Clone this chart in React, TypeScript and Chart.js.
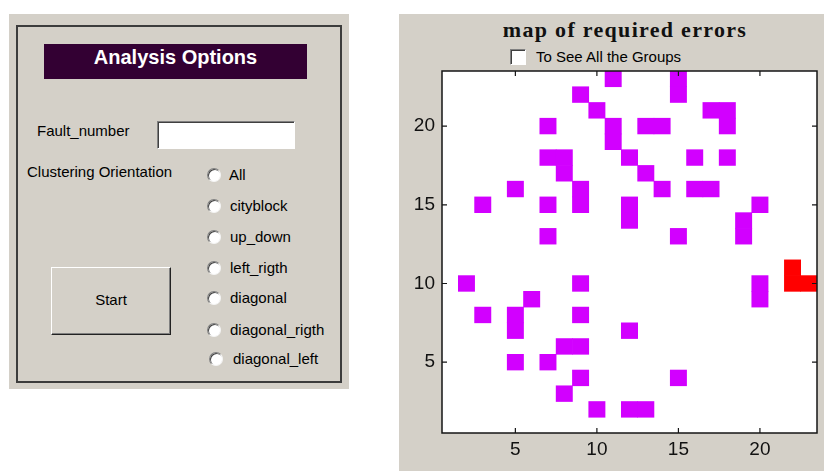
import React, { useEffect, useRef } from "react";
import { Chart, registerables } from "chart.js";

Chart.register(...registerables);

// ---- data ----
const AXIS_MIN = 0.5;
const AXIS_MAX = 23.5;
const TICK_VALUES = [5, 10, 15, 20];

const MAGENTA_X = [11, 15, 15, 9, 10, 17, 18, 18, 7, 11, 11, 13, 14, 7, 8, 8, 12, 16, 18, 13, 5, 9, 9, 14, 16, 17, 3, 7, 12, 12, 20, 19, 19, 7, 15, 2, 9, 20, 20, 6, 3, 5, 5, 9, 12, 8, 9, 5, 7, 9, 15, 8, 10, 12, 13];
const MAGENTA_Y = [23, 23, 22, 22, 21, 21, 21, 20, 20, 20, 19, 20, 20, 18, 18, 17, 18, 18, 18, 17, 16, 16, 15, 16, 16, 16, 15, 15, 15, 14, 15, 14, 13, 13, 13, 10, 10, 10, 9, 9, 8, 8, 7, 8, 7, 6, 6, 5, 5, 4, 4, 3, 2, 2, 2];
const RED_X = [22, 22, 23];
const RED_Y = [11, 10, 10];

const TITLE = "map of required errors";
const CHECKBOX_LABEL = "To See All the Groups";
const PANEL_TITLE = "Analysis Options";
const RADIO_LABELS = ["All", "cityblock", "up_down", "left_rigth", "diagonal", "diagonal_rigth", "diagonal_left"];

// ---- styles ----
const GRAY = "#d4d0c8";
const MAGENTA = "#d200ff";
const RED = "#ff0000";
const UI_FONT = '"Liberation Sans", Arial, sans-serif';

const cells = (xs: number[], ys: number[]) => xs.map((x, i) => ({ x, y: [ys[i] - 0.5, ys[i] + 0.5] }));

const framePlugin = {
  id: "frame",
  beforeDatasetsDraw(chart: any) {
    const { ctx, chartArea: a } = chart;
    ctx.save();
    ctx.fillStyle = "#ffffff";
    ctx.fillRect(a.left, a.top, a.right - a.left, a.bottom - a.top);
    ctx.restore();
  },
  afterDatasetsDraw(chart: any) {
    const { ctx, chartArea: a, scales } = chart;
    ctx.save();
    ctx.strokeStyle = "#151515";
    ctx.lineWidth = 1.5;
    ctx.strokeRect(a.left, a.top, a.right - a.left, a.bottom - a.top);
    ctx.beginPath();
    const L = 5;
    for (const v of TICK_VALUES) {
      const px = scales.x.getPixelForValue(v);
      ctx.moveTo(px, a.bottom);
      ctx.lineTo(px, a.bottom - L);
      ctx.moveTo(px, a.top);
      ctx.lineTo(px, a.top + L);
      const py = scales.y.getPixelForValue(v);
      ctx.moveTo(a.left, py);
      ctx.lineTo(a.left + L, py);
      ctx.moveTo(a.right, py);
      ctx.lineTo(a.right - L, py);
    }
    ctx.lineWidth = 1.2;
    ctx.stroke();
    ctx.restore();
  },
};

function Label({ x, cy, text, size = 15, color = "#000", weight = "normal" }: any) {
  return (
    <div
      style={{
        position: "absolute",
        left: x,
        top: cy - size * 0.6,
        fontFamily: UI_FONT,
        fontSize: size,
        lineHeight: `${size * 1.2}px`,
        color,
        fontWeight: weight,
        whiteSpace: "nowrap",
      }}
    >
      {text}
    </div>
  );
}

const RADIO_Y = [175, 206, 237, 268, 298, 330, 359];
const RADIO_CX = [213.5, 213.5, 213.5, 213.5, 213.5, 213.5, 215.5];
const RADIO_TX = [229, 230, 230, 230, 230, 230, 233];

export default function App() {
  const canvasRef = useRef<HTMLCanvasElement | null>(null);

  useEffect(() => {
    const canvas = canvasRef.current;
    if (!canvas) return;
    const tickFont = { family: UI_FONT, size: 19 };
    const chart = new Chart(canvas, {
      type: "bar",
      data: {
        datasets: [
          {
            label: "errors",
            data: cells(MAGENTA_X, MAGENTA_Y) as any,
            backgroundColor: MAGENTA,
            borderWidth: 0,
            grouped: false,
            categoryPercentage: 1,
            barPercentage: 1,
          },
          {
            label: "selected",
            data: cells(RED_X, RED_Y) as any,
            backgroundColor: RED,
            borderWidth: 0,
            grouped: false,
            categoryPercentage: 1,
            barPercentage: 1,
          },
        ],
      },
      options: {
        animation: false,
        responsive: false,
        devicePixelRatio: 1,
        events: [],
        layout: { padding: { left: 0, right: 7, top: 57, bottom: 0 } },
        plugins: { legend: { display: false }, tooltip: { enabled: false }, title: { display: false } },
        scales: {
          x: {
            type: "linear",
            min: AXIS_MIN,
            max: AXIS_MAX,
            offset: false,
            grid: { display: false, drawTicks: false },
            border: { display: false },
            afterBuildTicks: (s: any) => {
              s.ticks = TICK_VALUES.map((v) => ({ value: v }));
            },
            afterFit: (s: any) => {
              s.height = 38;
            },
            ticks: { font: tickFont, color: "#111", padding: 5, maxRotation: 0, autoSkip: false },
          },
          y: {
            type: "linear",
            min: AXIS_MIN,
            max: AXIS_MAX,
            beginAtZero: false,
            grid: { display: false, drawTicks: false },
            border: { display: false },
            afterBuildTicks: (s: any) => {
              s.ticks = TICK_VALUES.map((v) => ({ value: v }));
            },
            afterFit: (s: any) => {
              s.width = 43;
            },
            ticks: { font: tickFont, color: "#111", padding: 7, autoSkip: false },
          },
        },
      } as any,
      plugins: [framePlugin],
    });
    return () => chart.destroy();
  }, []);

  return (
    <div style={{ position: "fixed", left: 0, top: 0, width: 824, height: 471, background: "#fff", overflow: "hidden" }}>
      {/* left control panel */}
      <div style={{ position: "absolute", left: 9, top: 14, width: 340, height: 375, background: GRAY }} />
      <div
        style={{
          position: "absolute",
          left: 16,
          top: 25,
          width: 326,
          height: 358,
          border: "2px solid #3c3c3c",
          boxSizing: "border-box",
        }}
      />
      <div
        style={{
          position: "absolute",
          left: 44,
          top: 44,
          width: 263,
          height: 35,
          background: "#330033",
          color: "#fff",
          fontFamily: UI_FONT,
          fontWeight: "bold",
          fontSize: 20,
          lineHeight: "27px",
          textAlign: "center",
        }}
      >
        {PANEL_TITLE}
      </div>
      <Label x={37} cy={131} text="Fault_number" />
      <div
        style={{
          position: "absolute",
          left: 157,
          top: 121,
          width: 138,
          height: 28,
          background: "#fff",
          boxSizing: "border-box",
          borderStyle: "solid",
          borderWidth: 1,
          borderColor: "#808080 #fff #fff #808080",
          boxShadow: "inset 1px 1px 0 #404040",
        }}
      />
      <Label x={27} cy={172} text="Clustering Orientation" />
      {RADIO_LABELS.map((t, i) => (
        <React.Fragment key={t}>
          <div
            style={{
              position: "absolute",
              left: RADIO_CX[i] - 7,
              top: RADIO_Y[i] - 7,
              width: 14,
              height: 14,
              borderRadius: "50%",
              background: "#fff",
              boxSizing: "border-box",
              borderStyle: "solid",
              borderWidth: 1,
              borderColor: "#808080 #f4f4f4 #f4f4f4 #808080",
              boxShadow: "inset 1px 1px 0 #404040",
            }}
          />
          <Label x={RADIO_TX[i]} cy={RADIO_Y[i]} text={t} />
        </React.Fragment>
      ))}
      <div
        style={{
          position: "absolute",
          left: 51,
          top: 267,
          width: 120,
          height: 68,
          boxSizing: "border-box",
          borderStyle: "solid",
          borderWidth: 1,
          borderColor: "#fff #222 #222 #fff",
          boxShadow: "inset -1px -1px 0 #808080",
          background: GRAY,
          fontFamily: UI_FONT,
          fontSize: 15,
          lineHeight: "64px",
          textAlign: "center",
          color: "#000",
        }}
      >
        Start
      </div>

      {/* right plot panel */}
      <div style={{ position: "absolute", left: 399, top: 14, width: 425, height: 457, background: GRAY }} />
      <div
        style={{
          position: "absolute",
          left: 425,
          top: 16,
          width: 400,
          textAlign: "center",
          fontFamily: '"Liberation Serif", "Times New Roman", serif',
          fontWeight: "bold",
          fontSize: 22,
          letterSpacing: 1.3,
          lineHeight: "27px",
          color: "#111",
          whiteSpace: "nowrap",
        }}
      >
        {TITLE}
      </div>
      <div
        style={{
          position: "absolute",
          left: 510,
          top: 49,
          width: 16,
          height: 16,
          background: "#fff",
          boxSizing: "border-box",
          borderStyle: "solid",
          borderWidth: 1,
          borderColor: "#808080 #fff #fff #808080",
          boxShadow: "inset 1px 1px 0 #404040",
        }}
      />
      <Label x={536} cy={57} text={CHECKBOX_LABEL} />
      <canvas
        ref={canvasRef}
        width={425}
        height={457}
        style={{ position: "absolute", left: 399, top: 14, width: 425, height: 457 }}
      />
    </div>
  );
}
